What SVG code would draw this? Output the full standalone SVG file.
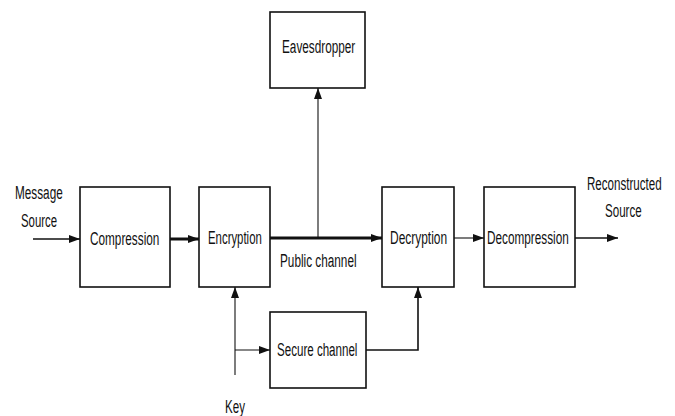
<svg xmlns="http://www.w3.org/2000/svg" width="675" height="416" viewBox="0 0 675 416">
<style>
.box{fill:#fff;stroke:#111;stroke-width:1.6}
.t{font-family:"Liberation Sans",Arial,sans-serif;font-size:19px;fill:#111}
.c{fill:none;stroke:#111;stroke-width:1.6}
.thick{stroke-width:3}
.thin{stroke-width:1.1}
</style>
<defs>
<marker id="ah" viewBox="0 0 11 8" refX="11" refY="4" markerWidth="11" markerHeight="8" markerUnits="userSpaceOnUse" orient="auto">
<path d="M0,0 L11,4 L0,8 z" fill="#111"/>
</marker>
</defs>
<rect width="675" height="416" fill="#fff"/>
<g id="connectors">
<path class="c" d="M33,239 H80" marker-end="url(#ah)"/>
<path class="c thick" d="M170,239 H199" marker-end="url(#ah)"/>
<path class="c thick" d="M270,238 H382" marker-end="url(#ah)"/>
<path class="c thin" d="M318,238 V88" marker-end="url(#ah)"/>
<path class="c thin" d="M454,238 H484" marker-end="url(#ah)"/>
<path class="c" d="M575,238 H618" marker-end="url(#ah)"/>
<path class="c thin" d="M235,375 V287" marker-end="url(#ah)"/>
<path class="c thin" d="M235,350 H270" marker-end="url(#ah)"/>
<path class="c" d="M366,350 H418 V287" marker-end="url(#ah)"/>
</g>
<g id="message-source">
<text class="t" transform="translate(15 199) scale(0.62 1)">Message</text>
<text class="t" transform="translate(21 227) scale(0.6 1)">Source</text>
</g>
<g id="compression">
<rect class="box" x="80" y="187" width="90" height="100"/>
<text class="t" transform="translate(90 245) scale(0.62 1)">Compression</text>
</g>
<g id="encryption">
<rect class="box" x="199" y="187" width="71" height="100"/>
<text class="t" transform="translate(208 244) scale(0.6 1)">Encryption</text>
</g>
<g id="public-channel">
<text class="t" transform="translate(280 267) scale(0.62 1)">Public channel</text>
</g>
<g id="eavesdropper">
<rect class="box" x="270" y="12" width="95" height="76"/>
<text class="t" transform="translate(282 53) scale(0.62 1)">Eavesdropper</text>
</g>
<g id="decryption">
<rect class="box" x="382" y="187" width="72" height="100"/>
<text class="t" transform="translate(390 244) scale(0.63 1)">Decryption</text>
</g>
<g id="decompression">
<rect class="box" x="484" y="187" width="91" height="100"/>
<text class="t" transform="translate(487 244) scale(0.62 1)">Decompression</text>
</g>
<g id="reconstructed-source">
<text class="t" transform="translate(587 190) scale(0.61 1)">Reconstructed</text>
<text class="t" transform="translate(605 217) scale(0.61 1)">Source</text>
</g>
<g id="secure-channel">
<rect class="box" x="270" y="312" width="96" height="76"/>
<text class="t" transform="translate(277 356) scale(0.61 1)">Secure channel</text>
</g>
<g id="key">
<text class="t" transform="translate(225 413) scale(0.61 1)">Key</text>
</g>
</svg>
